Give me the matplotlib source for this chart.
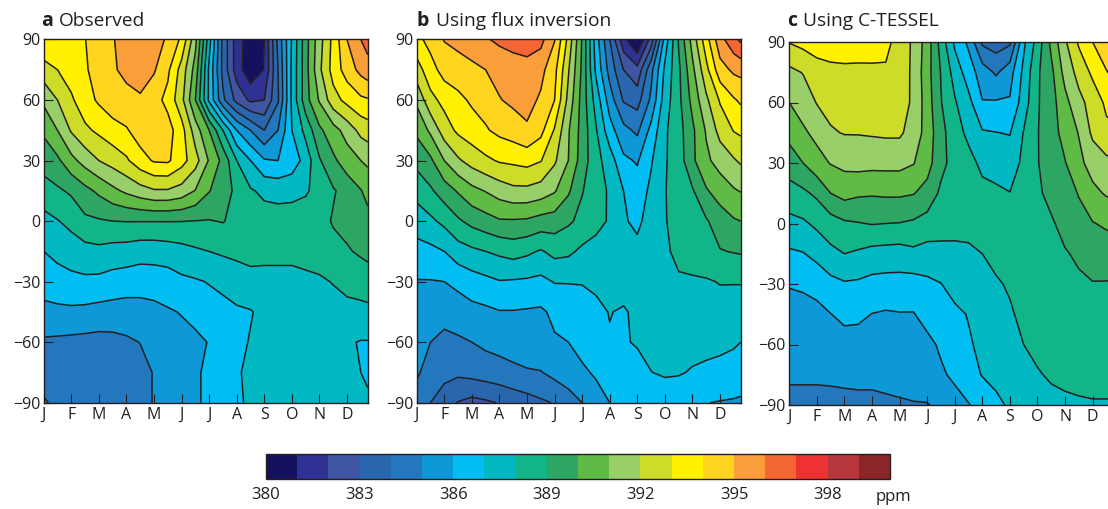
import numpy as np
import matplotlib
matplotlib.use("Agg")
import matplotlib.pyplot as plt
from matplotlib.colors import ListedColormap, BoundaryNorm

plt.rcParams["font.family"] = ["Open Sans", "DejaVu Sans"]

W, H = 1108, 509

month_labels = ["J", "F", "M", "A", "M", "J", "J", "A", "S", "O", "N", "D"]
lat_ticks = [90, 60, 30, 0, -30, -60, -90]

# half-month columns, the frame stops short of the end of December
months = [0, 0.5, 1, 1.5, 2, 2.5, 3, 3.5, 4, 4.5, 5, 5.5, 6, 6.5, 7, 7.5, 8, 8.5, 9, 9.5, 10, 10.5, 11, 11.5, 11.75]
lats = [90, 75, 60, 45, 30, 15, 0, -15, -30, -45, -60, -75, -90]

colors = ["#14115f", "#2e3192", "#3f54a3", "#2a66ae", "#2377bd", "#0f98d7", "#00bdf2", "#00b8c2", "#12b587", "#2ea663",
          "#5fbb46", "#99cf68", "#cddc29", "#fff100", "#ffd41f", "#fa9e3a", "#f46734", "#ee3233", "#b5373c", "#8a2529"]
levels = list(range(380, 401))
bar_ticks = [380, 383, 386, 389, 392, 395, 398]

observed = [
    [393.95, 393.9, 393.93, 393.98, 394.4, 394.95, 395.3, 395.5, 395.3, 394.9, 393.8, 391.3, 387.4, 383.7, 381.5, 380.4, 381.0, 384.3, 387.1, 389.6, 391.6, 393.3, 395.0, 396.0, 396.4],
    [392.55, 393, 393.45, 393.9, 394.35, 394.9, 395.2, 395.35, 395.1, 394.2, 392.6, 390.6, 386.8, 383.7, 381.5, 380.3, 381.05, 384, 387.2, 389.6, 391.8, 393.4, 394.45, 395.3, 395.6],
    [391.2, 392, 392.85, 393.6, 394.15, 394.6, 394.75, 394.9, 394.4, 393.7, 392.3, 390, 386.8, 384.2, 382.7, 381.8, 382, 383.9, 387.2, 389.6, 391.1, 392.6, 393.3, 393.8, 393.9],
    [390.2, 391, 392.1, 392.8, 393.2, 393.6, 393.9, 394.5, 394.7, 394.4, 393.4, 391.5, 390, 388, 386, 385, 384, 385, 387, 388.3, 389.8, 390.6, 391.4, 392.3, 392.5],
    [389.3, 389.8, 390.7, 391.4, 392, 392.4, 392.85, 393.6, 394.1, 394.15, 393.4, 392.4, 390.9, 389.7, 388, 387, 386.1, 386, 386.4, 387.4, 388.9, 389.8, 390.5, 391, 391.2],
    [388.7, 388.85, 389.15, 389.7, 390.2, 390.75, 391.2, 391.6, 391.9, 391.9, 391.6, 390.95, 390.05, 389.4, 388.8, 388.1, 387.8, 387.7, 387.75, 387.9, 388.3, 388.9, 389.4, 389.95, 390.3],
    [387.6, 387.95, 388.3, 388.8, 388.9, 389, 389.03, 389.03, 389.03, 389.03, 389.02, 388.98, 388.95, 389.05, 388.7, 388.5, 388.4, 388.4, 388.4, 388.45, 388.6, 389.1, 389.3, 389.6, 389.7],
    [387, 387.3, 387.45, 387.65, 387.75, 387.6, 387.55, 387.4, 387.4, 387.5, 387.65, 387.85, 388, 388.15, 388.3, 388.4, 388.35, 388.35, 388.35, 388.4, 388.5, 388.65, 388.9, 389.15, 389.3],
    [386.4, 386.55, 386.75, 386.8, 386.75, 386.6, 386.5, 386.45, 386.5, 386.55, 386.8, 386.9, 387.05, 387.2, 387.35, 387.6, 387.6, 387.6, 387.6, 387.75, 387.85, 388.05, 388.3, 388.4, 388.45],
    [385.75, 385.8, 385.8, 385.75, 385.65, 385.6, 385.55, 385.6, 385.7, 385.9, 386.05, 386.35, 386.6, 386.75, 386.9, 386.95, 387.2, 387.35, 387.35, 387.4, 387.5, 387.6, 387.7, 387.75, 387.8],
    [384.85, 384.8, 384.75, 384.7, 384.65, 384.7, 384.85, 385.02, 385.3, 385.5, 385.7, 385.75, 386.05, 386.5, 386.8, 387.05, 387.2, 387.2, 387.2, 387.2, 387.2, 387.15, 387.1, 386.95, 386.95],
    [384.4, 384.45, 384.45, 384.45, 384.5, 384.5, 384.55, 384.7, 385.05, 385.4, 385.7, 385.9, 386.15, 386.6, 386.9, 387.2, 387.25, 387.2, 387.2, 387.15, 387.15, 387.1, 387.1, 387, 386.9],
    [383.9, 384.2, 384.3, 384.3, 384.35, 384.4, 384.5, 384.7, 385.05, 385.4, 385.7, 385.9, 386.15, 386.55, 386.9, 387.1, 387.2, 387.2, 387.2, 387.2, 387.2, 387.2, 387.2, 387.1, 387.1],
]

inversion = [
    [393.7, 394.35, 395.05, 395.3, 395.6, 395.9, 396.2, 396.35, 396.4, 396.3, 395.05, 392.7, 389.9, 386.5, 384, 381.3, 379.9, 382.4, 386.4, 389.1, 391.4, 393.6, 395.65, 396.7, 397.2],
    [392.55, 393.6, 394.4, 394.55, 394.75, 395, 395.3, 395.55, 395.7, 395.3, 394.3, 392.1, 389.8, 386.8, 384.6, 383, 382.3, 384.7, 387.2, 388.8, 390.75, 392.7, 394.6, 395.2, 395.3],
    [391.2, 392.7, 393.3, 393.75, 394.15, 394.4, 394.95, 395.2, 395.35, 394.85, 394, 391.7, 389.6, 387.6, 385.5, 383.9, 383.6, 385.2, 387.5, 388.75, 390.3, 391.8, 393.1, 393.9, 394.15],
    [390.2, 391.2, 392.5, 393.2, 393.55, 393.9, 394.25, 394.5, 394.85, 394.3, 392.9, 391.1, 389.6, 388.1, 386.4, 385.3, 384.8, 386.3, 387.85, 388.6, 389.8, 391.1, 392.35, 393.05, 393.2],
    [389.3, 389.8, 391, 391.85, 392.4, 392.8, 393.1, 393.2, 393.35, 393.05, 392.15, 391, 389.5, 388.35, 387.5, 386.2, 385.9, 386.9, 387.9, 388.5, 389.8, 390.8, 391.4, 391.9, 392.15],
    [388.35, 388.85, 389.5, 390.1, 390.7, 391.05, 391.45, 391.75, 391.75, 391.55, 391.1, 390.15, 389.05, 388.5, 387.85, 387, 386.5, 387.2, 387.95, 388.5, 388.9, 389.9, 390.45, 390.9, 391.05],
    [387.45, 387.8, 388.25, 388.85, 389.3, 389.6, 389.9, 389.9, 389.85, 389.6, 389.5, 389.15, 388.75, 388.3, 387.9, 387.1, 386.8, 387.4, 387.95, 388.3, 388.6, 388.9, 389.5, 389.9, 390],
    [386.65, 386.75, 387, 387.55, 387.8, 388, 388.2, 388.4, 388.2, 387.9, 388.3, 388.2, 387.8, 387.65, 387.6, 387.4, 387.25, 387.5, 387.8, 388.3, 388.55, 388.75, 388.95, 389.05, 389.1],
    [385.95, 385.95, 386, 386.25, 386.55, 386.75, 386.95, 386.9, 386.85, 386.75, 387.05, 387.05, 387.05, 387.25, 387.55, 387.6, 387.6, 387.6, 387.65, 387.85, 387.85, 387.9, 388.05, 388.05, 388.05],
    [385.67, 385.55, 385.4, 385.5, 385.7, 385.8, 385.95, 385.95, 385.9, 385.85, 386.2, 386.35, 386.6, 386.7, 387.05, 386.85, 387.3, 387.6, 387.7, 387.7, 387.7, 387.6, 387.6, 387.55, 387.55],
    [385.4, 385, 384.7, 384.85, 385, 385.2, 385.3, 385.5, 385.6, 385.75, 385.9, 386, 386.4, 386.75, 386.9, 386.95, 387.05, 387.35, 387.5, 387.5, 387.4, 387.3, 387.2, 387.1, 387],
    [385.1, 384.7, 384.35, 384.2, 384.35, 384.5, 384.65, 384.75, 384.9, 384.95, 385.3, 385.6, 385.8, 386.15, 386.5, 386.7, 386.8, 386.98, 387.15, 387.1, 386.9, 386.8, 386.75, 386.65, 386.55],
    [384.7, 384, 383.4, 382.95, 382.7, 382.85, 383.05, 383.4, 383.6, 383.85, 384.05, 384.5, 385, 385.5, 386, 386.15, 386.25, 386.25, 386.25, 386.2, 386.1, 386.02, 385.95, 385.9, 385.85],
]

ctessel = [
    [393.05, 393.3, 393.5, 393.5, 393.5, 393.45, 393.35, 393.2, 392.7, 391.8, 390.55, 388.6, 386.8, 385.8, 383.8, 383.5, 383.8, 386.8, 388.4, 390.25, 391.85, 393.15, 394, 394.6, 394.8],
    [391.75, 392.05, 392.55, 392.75, 392.8, 392.8, 392.85, 392.9, 392.55, 391.8, 390.4, 388.95, 387.6, 386.5, 385.5, 384.85, 385.6, 387.25, 388.85, 389.75, 391.35, 392.35, 393.2, 393.95, 394.2],
    [391, 391.4, 392.05, 392.3, 392.4, 392.4, 392.4, 392.45, 392.4, 391.85, 390.5, 389.05, 388.1, 387.3, 386.05, 386.1, 386.1, 387.5, 388.9, 389.6, 390.7, 391.7, 392.4, 393.2, 393.3],
    [390.3, 390.85, 391.25, 391.9, 392.05, 392.05, 392.1, 392.15, 392.15, 391.6, 390.6, 389.3, 388.45, 387.75, 387.1, 387.02, 386.95, 388.05, 388.95, 389.6, 390.35, 391.05, 392.2, 392.75, 392.85],
    [389.5, 390, 390.65, 391.05, 391.25, 391.35, 391.3, 391.3, 391.3, 391.05, 390.4, 389.3, 388.6, 388.35, 387.75, 387.55, 387.55, 388.2, 388.95, 389.5, 389.95, 390.75, 391.4, 391.75, 391.8],
    [388.6, 388.8, 389.2, 390, 390.35, 390.15, 390.1, 390.15, 390.15, 390.05, 389.65, 388.8, 388.5, 388.4, 388.3, 388.2, 388.02, 388.3, 388.8, 389.35, 389.6, 390.05, 390.75, 391.1, 391.2],
    [387.7, 387.85, 388.2, 388.55, 388.85, 388.95, 389.05, 389, 388.97, 388.85, 388.6, 388.55, 388.4, 388.35, 388.3, 388.3, 388.35, 388.5, 388.7, 388.85, 389.4, 389.7, 389.95, 390.15, 390.2],
    [386.85, 386.95, 387.3, 387.75, 388, 387.85, 387.65, 387.6, 387.55, 387.75, 387.6, 387.6, 387.7, 387.8, 388, 388.25, 388.2, 388.4, 388.45, 388.55, 388.9, 389.2, 389.5, 389.45, 389.4],
    [386.05, 386.1, 386.3, 386.7, 386.9, 386.85, 386.7, 386.65, 386.65, 386.6, 386.8, 386.98, 387.35, 387.55, 387.75, 387.9, 388.1, 388.3, 388.3, 388.4, 388.5, 388.8, 388.95, 388.95, 388.95],
    [385.7, 385.75, 385.75, 385.98, 386.25, 386.2, 385.98, 385.9, 385.95, 385.95, 386.35, 386.4, 386.8, 387.05, 387.5, 387.55, 387.9, 388.2, 388.3, 388.45, 388.55, 388.7, 388.8, 388.85, 388.85],
    [385.45, 385.4, 385.4, 385.5, 385.6, 385.6, 385.55, 385.55, 385.5, 385.45, 385.75, 386.15, 386.45, 386.9, 387.2, 387.5, 387.7, 388, 388.3, 388.4, 388.6, 388.7, 388.7, 388.75, 388.75],
    [385.15, 385.15, 385.15, 385.15, 385.2, 385.2, 385.2, 385.25, 385.3, 385.35, 385.55, 385.85, 386.2, 386.6, 387.05, 387.3, 387.5, 387.65, 387.9, 388.15, 388.3, 388.35, 388.4, 388.4, 388.4],
    [384.7, 384.7, 384.7, 384.75, 384.75, 384.8, 384.8, 384.85, 384.9, 384.95, 384.95, 385.2, 385.6, 385.95, 386.3, 386.75, 387.15, 387.35, 387.5, 387.65, 387.75, 387.85, 387.9, 387.9, 387.9],
]

cmap = ListedColormap(colors)
norm = BoundaryNorm(levels, cmap.N)
dark = "#231f20"


def px_axes(fig, left, top, right, bottom):
    return fig.add_axes([left / W, 1 - bottom / H, (right - left) / W, (bottom - top) / H])


def draw_panel(ax, co2):
    co2 = np.array(co2)
    cs = ax.contourf(months, lats, co2, levels=levels, cmap=cmap, norm=norm)
    ax.contour(months, lats, co2, levels=levels, colors=dark, linewidths=1.1, linestyles="solid")
    ax.set_xlim(0, 11.75)
    ax.set_ylim(-90, 90)
    ax.set_xticks(range(12))
    ax.set_xticklabels(month_labels)
    ax.set_yticks(lat_ticks)
    ax.tick_params(direction="in", length=6.5, width=0.8, color=dark, labelsize=11.5, labelcolor=dark, pad=3)
    ax.tick_params(axis="y", pad=2.5)
    for s in ax.spines.values():
        s.set_linewidth(1.0)
        s.set_color(dark)
    return cs


fig = plt.figure(figsize=(W / 100, H / 100), dpi=100)

ax_a = px_axes(fig, 43.7, 39.5, 367.7, 402.7)
ax_b = px_axes(fig, 416.7, 39.5, 740.7, 402.7)
ax_c = px_axes(fig, 789.3, 42, 1113.3, 405)

cs = draw_panel(ax_a, observed)
draw_panel(ax_b, inversion)
draw_panel(ax_c, ctessel)

titles = [(41, "a", 59, "Observed"), (416, "b", 436, "Using flux inversion"), (787, "c", 803, "Using C-TESSEL")]
for x0, letter, x1, name in titles:
    fig.text(x0 / W, 1 - 21 / H, letter, fontsize=14, fontweight="bold", color=dark, ha="left", va="center")
    fig.text(x1 / W, 1 - 21 / H, name, fontsize=13.8, color=dark, ha="left", va="center")

cax = px_axes(fig, 266, 454, 890, 479)
cb = fig.colorbar(cs, cax=cax, orientation="horizontal", ticks=bar_ticks, spacing="proportional")
cb.ax.minorticks_off()
cb.ax.tick_params(which="both", length=0, labelsize=12, labelcolor=dark, pad=6)
cb.outline.set_linewidth(1.0)
cb.outline.set_edgecolor(dark)
fig.text(893 / W, 1 - 497 / H, "ppm", fontsize=12, color=dark, ha="center", va="center")

fig.savefig("out.png", dpi=100)
